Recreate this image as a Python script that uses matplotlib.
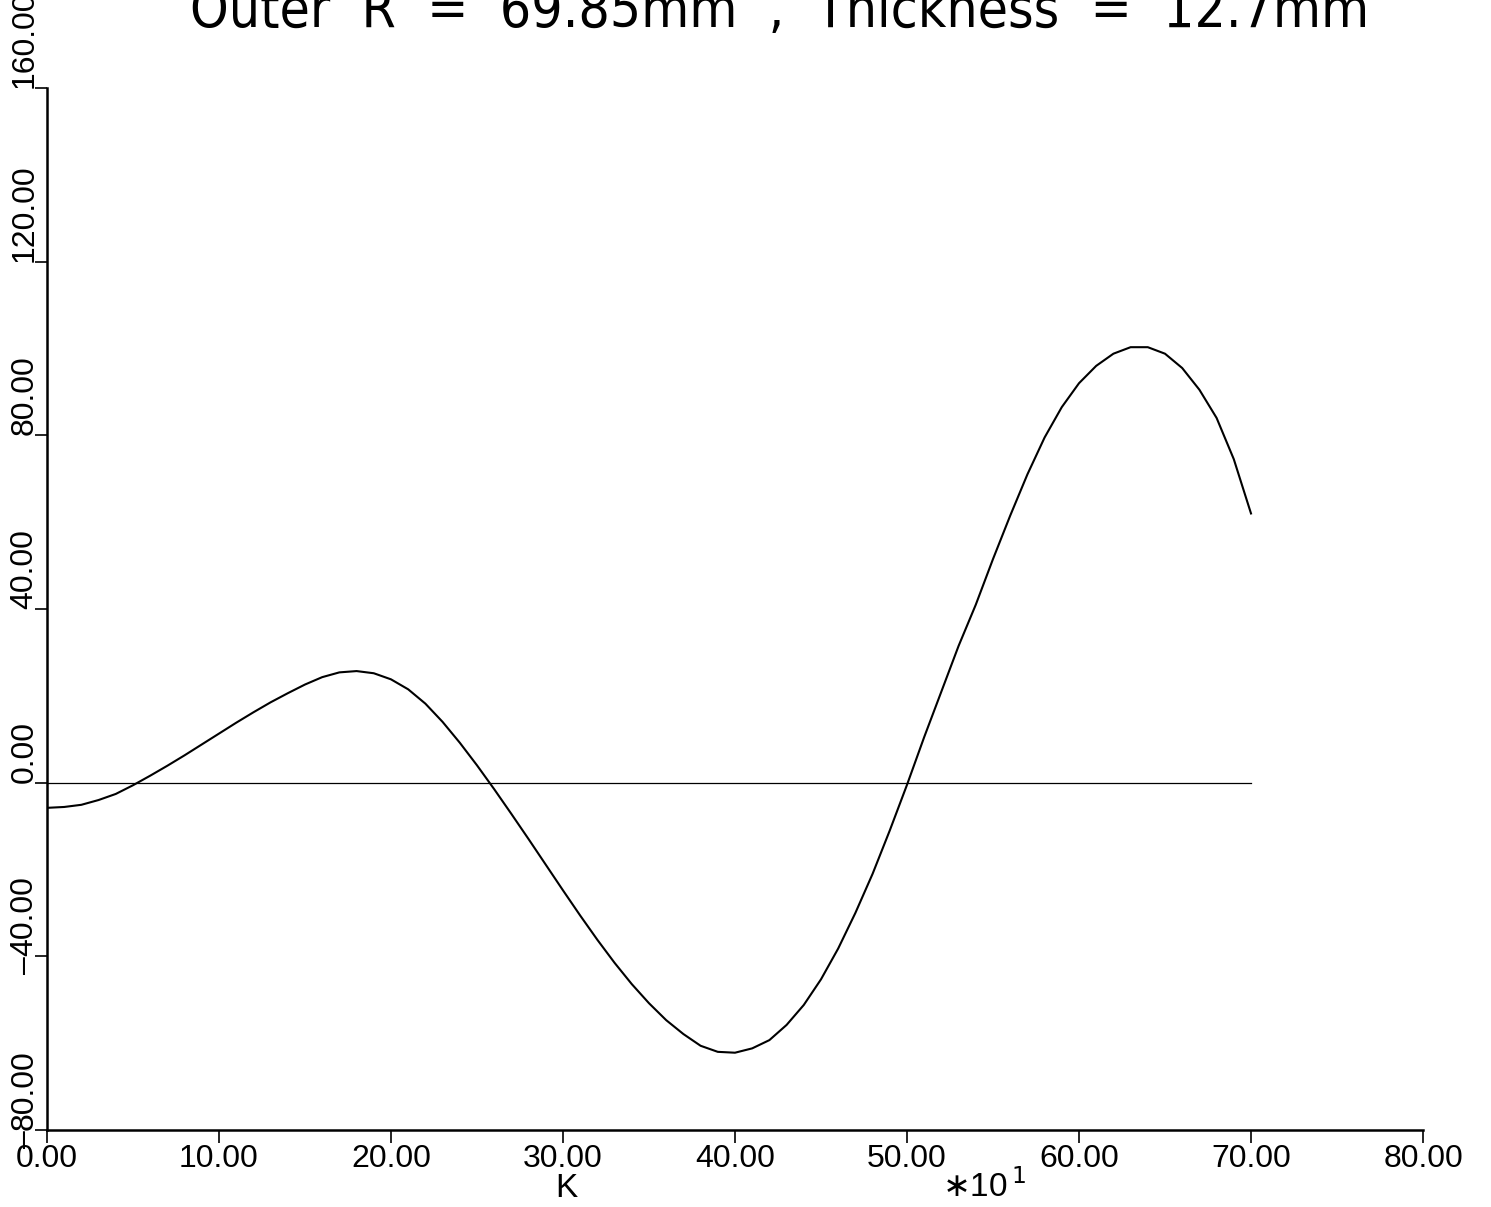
import matplotlib.pyplot as plt
from matplotlib import transforms

# response curve, K in units of 10
K = list(range(0, 71))
amp = [-5.8, -5.6, -5.1, -4.0, -2.6, -0.6, 1.6, 3.9, 6.3, 8.8,
       11.3, 13.8, 16.2, 18.5, 20.6, 22.6, 24.3, 25.4, 25.7, 25.2,
       23.8, 21.5, 18.2, 14.0, 9.2, 4.0, -1.5, -7.2, -13.0, -18.9,
       -24.8, -30.6, -36.2, -41.5, -46.4, -50.8, -54.7, -57.9, -60.6, -62.0,
       -62.2, -61.2, -59.3, -55.8, -51.2, -45.3, -38.2, -30.0, -21.0, -11.0,
       -0.5, 10.5, 21.0, 31.5, 41.0, 51.5, 61.5, 71.0, 79.5, 86.5,
       92.0, 96.0, 98.8, 100.3, 100.3, 98.8, 95.5, 90.5, 84.0, 74.5,
       62.0]

xticks = [0, 10, 20, 30, 40, 50, 60, 70, 80]
xlabels = ["0.00", "10.00", "20.00", "30.00", "40.00", "50.00", "60.00",
           "70.00", "80.00"]
yticks = [-80, -40, 0, 40, 80, 120, 160]

title = "Outer  R  =  69.85mm  ,  Thickness  =  12.7mm"

plt.rcParams["font.family"] = "Liberation Sans"

fig = plt.figure(figsize=(14.91, 12.07), dpi=100)
ax = fig.add_axes([0.0315, 0.0638, 0.9229, 0.8633])

ax.plot(K, amp, color="black", lw=1.5)
ax.plot([0, 70], [0, 0], color="black", lw=0.9)

ax.set_xlim(0, 80)
ax.set_ylim(-80, 160)
ax.spines["top"].set_visible(False)
ax.spines["right"].set_visible(False)
ax.spines["left"].set_linewidth(1.8)
ax.spines["bottom"].set_linewidth(1.8)

ax.set_xticks(xticks)
ax.set_xticklabels(xlabels, fontsize=23)
ax.tick_params(axis="x", direction="out", length=9, width=1.2, pad=1)
ax.set_yticks(yticks)
ax.set_yticklabels([])
ax.tick_params(axis="y", direction="out", length=9, width=1.2)

# rotated y labels, digits start at the tick, minus hangs below it
trans = transforms.blended_transform_factory(fig.transFigure, ax.transData)
for v in yticks:
    ax.text(0.0165, v, "%.2f" % abs(v), transform=trans, rotation=90,
            rotation_mode="anchor", ha="left", va="center", fontsize=23)
    if v < 0:
        ax.text(0.0165, v, "\u2013", transform=trans, rotation=90,
                rotation_mode="anchor", ha="right", va="center", fontsize=23)

ax.text(30.2, -0.071, "K", transform=ax.get_xaxis_transform(), ha="center",
        va="bottom", fontsize=24)
ax.text(54.5, -0.071, "$\\ast$10$^{\\,1}$", transform=ax.get_xaxis_transform(),
        ha="center", va="bottom", fontsize=24)

fig.text(0.523, 0.978, title, ha="center", va="baseline", fontsize=39.5,
         family="DejaVu Sans", fontstretch="condensed")

fig.savefig("out.png", dpi=100)
